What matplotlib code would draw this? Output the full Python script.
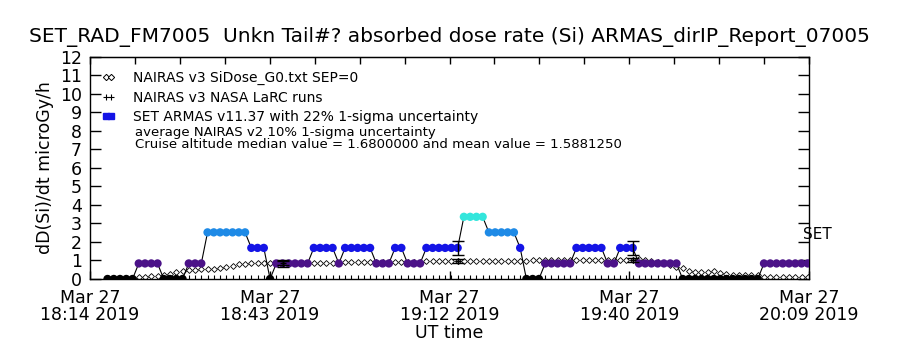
import matplotlib
matplotlib.use("Agg")
import matplotlib.pyplot as plt
from matplotlib.lines import Line2D
import numpy as np
import pandas as pd

# ARMAS / NAIRAS samples, one per minute starting 18:16:48 UT
t_start = "2019-03-27 18:16:48"
axis_start = pd.Timestamp("2019-03-27 18:14:00")
axis_end = pd.Timestamp("2019-03-27 20:09:00")

armas = [0, 0, 0, 0, 0,
         0.84, 0.84, 0.84, 0.84,
         0, 0, 0, 0,
         0.84, 0.84, 0.84,
         2.52, 2.52, 2.52, 2.52, 2.52, 2.52, 2.52,
         1.68, 1.68, 1.68,
         0,
         0.84, 0.84, 0.84, 0.84, 0.84, 0.84,
         1.68, 1.68, 1.68, 1.68,
         0.84,
         1.68, 1.68, 1.68, 1.68, 1.68,
         0.84, 0.84, 0.84,
         1.68, 1.68,
         0.84, 0.84, 0.84,
         1.68, 1.68, 1.68, 1.68, 1.68, 1.68,
         3.36, 3.36, 3.36, 3.36,
         2.52, 2.52, 2.52, 2.52, 2.52,
         1.68,
         0, 0, 0,
         0.84, 0.84, 0.84, 0.84, 0.84,
         1.68, 1.68, 1.68, 1.68, 1.68,
         0.84, 0.84,
         1.68, 1.68, 1.68,
         0.84, 0.84, 0.84, 0.84, 0.84, 0.84, 0.84,
         0, 0, 0, 0, 0, 0, 0, 0, 0, 0, 0, 0, 0,
         0.84, 0.84, 0.84, 0.84, 0.84, 0.84, 0.84, 0.84]

nairas = [0.04, 0.05, 0.06, 0.07, 0.08,
          0.10, 0.12, 0.16, 0.18, 0.23, 0.27, 0.36, 0.43, 0.46, 0.49, 0.54,
          0.55, 0.55, 0.61, 0.67, 0.70, 0.80,
          0.82, 0.84, 0.84, 0.85, 0.85, 0.86, 0.86, 0.86, 0.86, 0.86, 0.86,
          0.86, 0.86, 0.86, 0.86, 0.86,
          0.90, 0.90, 0.90, 0.90, 0.90, 0.90, 0.90, 0.90,
          0.94, 0.94, 0.94, 0.94, 0.94,
          0.97, 0.97, 0.97, 0.97, 0.97, 0.97, 0.97, 0.97, 0.97, 0.97, 0.97,
          0.97, 0.97, 0.97, 0.97, 0.97, 0.97,
          1.00, 1.00, 1.00, 1.00, 1.00, 1.00, 1.00, 1.00, 1.00, 1.00, 1.00,
          1.00, 1.00,
          1.05, 1.05, 1.05, 1.05,
          1.08, 1.00, 0.95, 0.90, 0.85, 0.76, 0.64,
          0.61, 0.45, 0.40, 0.40, 0.40, 0.43, 0.30, 0.27, 0.22, 0.20, 0.20,
          0.20, 0.20,
          0.12, 0.12, 0.11, 0.11, 0.10, 0.10, 0.10, 0.10]

# samples that carry the 1-sigma error bars (NASA LaRC runs)
err_idx = [28, 56, 84]
armas_sigma = 0.22
nairas_sigma = 0.10

level_colors = {0: "black", 0.84: "#4b1288", 1.68: "#1414e6",
                2.52: "#1e8ae6", 3.36: "#33e6dc"}

tick_labels = ["Mar 27\n18:14 2019", "Mar 27\n18:43 2019", "Mar 27\n19:12 2019",
               "Mar 27\n19:40 2019", "Mar 27\n20:09 2019"]

times = pd.date_range(t_start, periods=len(armas), freq="60s")
t = ((times - axis_start).total_seconds() / 60.0).to_numpy()
t_end = (axis_end - axis_start).total_seconds() / 60.0
armas = np.array(armas)
nairas = np.array(nairas)

fig = plt.figure(figsize=(9, 3.5), dpi=100)
ax = fig.add_axes([0.1, 0.2029, 0.7989, 0.6343])

# NAIRAS model (open diamonds)
ax.plot(t, nairas, ls="none", marker="D", ms=3.0, mfc="white", mec="black",
        mew=0.6, zorder=2)

# ARMAS measurements, line + coloured dots
ax.plot(t, armas, color="black", lw=0.8, zorder=3)
cols = [level_colors[v] for v in armas]
ax.scatter(t, armas, c=cols, s=36, marker="o", linewidths=0, zorder=4)

# error bars
ie = np.array(err_idx)
ax.errorbar(t[ie], armas[ie], yerr=armas_sigma * armas[ie], fmt="none",
            ecolor="black", elinewidth=1, capsize=4, capthick=1, zorder=5)
ax.errorbar(t[ie], nairas[ie], yerr=nairas_sigma * nairas[ie], fmt="none",
            ecolor="black", elinewidth=1, capsize=4, capthick=1, zorder=5)
ax.plot(t[ie], nairas[ie], ls="none", marker="+", ms=4, color="black", zorder=5)

ax.set_xlim(0, t_end)
ax.set_ylim(0, 12)

ax.set_yticks(range(13))
ax.tick_params(axis="y", which="major", direction="in", length=8, width=1,
               right=True, labelsize=12.5, pad=6)
ax.set_xticks(np.linspace(0, t_end, len(tick_labels)))
ax.set_xticklabels(tick_labels)
ax.set_xticks(t, minor=True)
ax.tick_params(axis="x", which="major", direction="in", length=6, width=1,
               labelsize=12.5, pad=7)
ax.tick_params(axis="x", which="minor", direction="in", length=3, width=0.8)
for lbl in ax.get_xticklabels():
    lbl.set_linespacing(0.95)

top = ax.secondary_xaxis("top")
top.set_xticks(np.linspace(0, t_end, 17))
top.tick_params(direction="in", length=5, width=1, labeltop=False)

for s in ax.spines.values():
    s.set_linewidth(1)

handles = [
    Line2D([], [], ls="none", marker="D", ms=3.2, mfc="white", mec="black", mew=0.7),
    Line2D([], [], ls="none", marker="+", ms=5, color="black", mew=0.8),
    Line2D([], [], ls="none", marker="s", ms=4, color="#1414e6"),
]
labels = ["NAIRAS v3 SiDose_G0.txt SEP=0",
          "NAIRAS v3 NASA LaRC runs",
          "SET ARMAS v11.37 with 22% 1-sigma uncertainty"]
ax.legend(handles, labels, loc="upper left", bbox_to_anchor=(0.012, 0.95),
          frameon=False, numpoints=2, handlelength=1.0, handletextpad=1.3,
          borderpad=0, borderaxespad=0.2, labelspacing=0.4, fontsize=10)
ax.text(0.0626, 0.658, "average NAIRAS v2 10% 1-sigma uncertainty",
        transform=ax.transAxes, fontsize=9.5, va="center")
ax.text(0.0626, 0.606,
        "Cruise altitude median value = 1.6800000 and mean value = 1.5881250",
        transform=ax.transAxes, fontsize=9.5, va="center")

ax.text(0.9917, 2.4, "SET", transform=ax.get_yaxis_transform(), fontsize=11,
        va="center", ha="left", clip_on=False)

fig.text(0.499, 0.893,
         "SET_RAD_FM7005  Unkn Tail#? absorbed dose rate (Si) ARMAS_dirIP_Report_07005",
         ha="center", va="center", fontsize=14.5)
fig.text(0.05, 0.52, "dD(Si)/dt microGy/h", rotation=90, ha="center",
         va="center", fontsize=12.5)
fig.text(0.499, 0.049, "UT time", ha="center", va="center", fontsize=12.5)

fig.savefig("out.png", dpi=100)
